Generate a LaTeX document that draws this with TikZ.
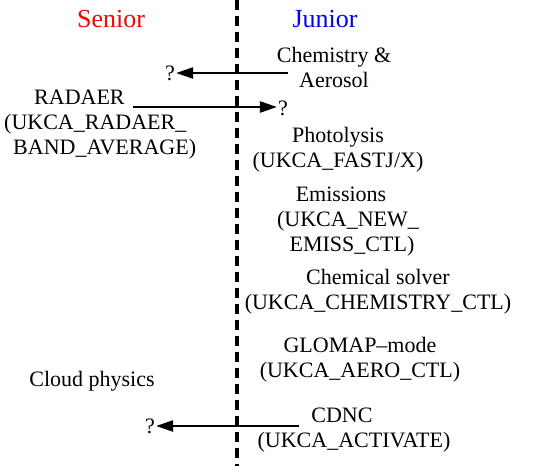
\documentclass[tikz,border=0pt]{standalone}
\usepackage{fontspec}
\setmainfont{Liberation Serif}
\usetikzlibrary{arrows.meta}

\begin{document}
\begin{tikzpicture}[
    x=1pt, y=-1pt,
    font=\fontsize{22}{25}\selectfont,
    head/.style={font=\fontsize{26}{30}\selectfont},
    label/.style={align=center, inner sep=1pt},
    query/.style={inner sep=1pt},
    flow/.style={-{Triangle[length=17pt,width=11pt]}, line width=2.4pt},
    divider/.style={line width=3.3pt, dash pattern=on 10pt off 6pt}
]
    \useasboundingbox (0,0) rectangle (550,466);
    % split between the two models
    \coordinate (top) at (237,0);
    \coordinate (bottom) at (237,466);
    \draw[divider] (top) -- (bottom);
    \node[head, text=red] (senior) at (111,19) {Senior};
    \node[head, text=blue] (junior) at (325,19) {Junior};
    % junior side
    \node[label] (chem) at (334,67) {Chemistry \&\\Aerosol};
    \node[label] (photo) at (338,150) {Photolysis\\(UKCA\_FASTJ/X)};
    \node[label] (emis) at (348,222) {\hspace*{-14pt}Emissions\\(UKCA\_NEW\_\\\hspace*{8pt}EMISS\_CTL)};
    \node[label] (solver) at (378,292) {Chemical solver\\(UKCA\_CHEMISTRY\_CTL)};
    \node[label] (glomap) at (360,360) {GLOMAP--mode\\(UKCA\_AERO\_CTL)};
    \node[label] (cdnc) at (354,430) {\hspace*{-24pt}CDNC\\(UKCA\_ACTIVATE)};
    % senior side
    \node[label, align=left, anchor=west] (radaer) at (3,125) {\hspace*{30pt}RADAER\\(UKCA\_RADAER\_\\\hspace*{9pt}BAND\_AVERAGE)};
    \node[label] (cloud) at (92,381) {Cloud physics};
    % unknown couplings
    \node[query] (q1) at (170,73) {?};
    \node[query] (q2) at (283,108) {?};
    \node[query] (q3) at (150,426) {?};
    \coordinate (c1) at (288,73);
    \coordinate (c2) at (133,107);
    \coordinate (c3) at (299,426);
    \draw[flow] (c1) -- (q1);
    \draw[flow] (c2) -- (q2.west |- c2);
    \draw[flow] (c3) -- (q3);
\end{tikzpicture}
\end{document}
